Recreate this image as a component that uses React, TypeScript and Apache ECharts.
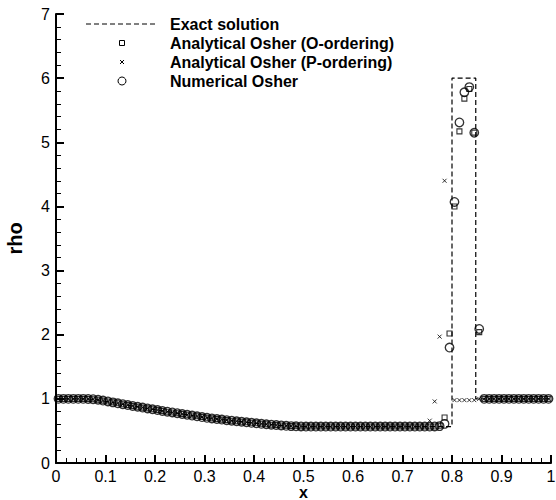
import React, { useEffect, useRef } from "react";
import * as echarts from "echarts";

// cell-centred grid of 100 cells on [0, 1]
const N_CELLS = 100;

// shared smooth part (cells 0..74)
const rhoSmooth = [
  1, 1, 1, 1, 1, 1, 0.999, 0.995,
  0.986, 0.973, 0.959, 0.945, 0.931, 0.917, 0.903, 0.89, 0.877, 0.864,
  0.851, 0.838, 0.825, 0.812, 0.8, 0.788, 0.776, 0.764, 0.752, 0.74,
  0.728, 0.716, 0.705, 0.695, 0.686, 0.677, 0.668, 0.659, 0.651, 0.643,
  0.635, 0.627, 0.619, 0.611, 0.604, 0.597, 0.591, 0.585, 0.58, 0.575,
  0.572, 0.57,
  0.568, 0.568, 0.568, 0.568, 0.568, 0.568, 0.568, 0.568, 0.568, 0.568,
  0.568, 0.568, 0.568, 0.568, 0.568, 0.568, 0.568, 0.568, 0.568, 0.568,
  0.568, 0.568, 0.568, 0.568, 0.568,
];

// cells 75..99
const rhoNumericalTail = [
  0.568, 0.57, 0.575, 0.61, 1.8, 4.07, 5.31, 5.78, 5.86, 5.15, 2.09,
  1, 1, 1, 1, 1, 1, 1, 1, 1, 1, 1, 1, 1, 1,
];
const rhoOOrderTail = [
  0.568, 0.57, 0.58, 0.71, 2.02, 4.0, 5.17, 5.68, 5.83, 5.15, 2.04,
  1, 1, 1, 1, 1, 1, 1, 1, 1, 1, 1, 1, 1, 1,
];
const rhoPOrderTail = [
  0.66, 0.96, 1.97, 4.4, null, 0.98, 0.98, 0.98, 0.98, 0.98, 1.0,
  1, 1, 1, 1, 1, 1, 1, 1, 1, 1, 1, 1, 1, 1,
];

// exact solution polyline
const exactX = [0, 0.06, 0.08, 0.1, 0.15, 0.2, 0.25, 0.3, 0.35, 0.4, 0.45, 0.49, 0.8, 0.8, 0.848, 0.848, 1];
const exactRho = [1, 1, 0.99, 0.962, 0.895, 0.831, 0.77, 0.71, 0.664, 0.622, 0.588, 0.568, 0.568, 6, 6, 1, 1];

const xTicks = { min: 0, max: 1, interval: 0.1 };
const yTicks = { min: 0, max: 7, interval: 1 };

const legendNames = [
  "Exact solution",
  "Analytical Osher (O-ordering)",
  "Analytical Osher (P-ordering)",
  "Numerical Osher",
];

const FONT = "Liberation Sans, Arial, Helvetica, sans-serif";
const CROSS = "path://M0,0L10,10M10,0L0,10";

function toPairs(tail: (number | null)[]) {
  const vals = [...rhoSmooth, ...tail];
  const pts: (number | null)[][] = [];
  vals.forEach((v, i) => {
    if (v !== null) pts.push([(i + 0.5) / N_CELLS, v]);
  });
  return pts;
}

export default function App() {
  const ref = useRef<HTMLDivElement>(null);
  useEffect(() => {
    document.body.style.margin = "0";
    if (!ref.current) return;
    const chart = echarts.init(ref.current, undefined, { renderer: "svg" });
    const axisCommon = {
      axisLine: { show: true, onZero: false, lineStyle: { color: "#000", width: 2 } },
      axisTick: { show: true, inside: true, length: 8, lineStyle: { color: "#000", width: 2 } },
      minorTick: { show: true, splitNumber: 5, length: 5, lineStyle: { color: "#000", width: 1 } },
      splitLine: { show: false },
      minorSplitLine: { show: false },
    };
    const labelStyle = { color: "#000", fontSize: 16, fontFamily: FONT };
    const nameStyle = { color: "#000", fontWeight: "bold", fontFamily: FONT };
    const lx = 86, lw = 72, tx = 170, ly0 = 24, dy = 19;
    const legendGraphic: any[] = [
      { type: "line", shape: { x1: lx, y1: ly0, x2: lx + lw, y2: ly0 }, style: { stroke: "#000", lineWidth: 1, lineDash: [5, 3] } },
      { type: "rect", shape: { x: lx + lw / 2 - 2.5, y: ly0 + dy - 2.5, width: 5, height: 5 }, style: { fill: "none", stroke: "#000", lineWidth: 1 } },
      { type: "line", shape: { x1: lx + lw / 2 - 2, y1: ly0 + 2 * dy - 2, x2: lx + lw / 2 + 2, y2: ly0 + 2 * dy + 2 }, style: { stroke: "#000", lineWidth: 1 } },
      { type: "line", shape: { x1: lx + lw / 2 + 2, y1: ly0 + 2 * dy - 2, x2: lx + lw / 2 - 2, y2: ly0 + 2 * dy + 2 }, style: { stroke: "#000", lineWidth: 1 } },
      { type: "circle", shape: { cx: lx + lw / 2, cy: ly0 + 3 * dy, r: 4 }, style: { fill: "none", stroke: "#000", lineWidth: 1 } },
      ...legendNames.map((n, i) => ({
        type: "text",
        x: tx,
        y: ly0 + i * dy,
        style: { text: n, fill: "#000", fontSize: 16, fontWeight: "bold", fontFamily: FONT, verticalAlign: "middle", align: "left" },
      })),
    ];
    chart.setOption({
      animation: false,
      backgroundColor: "#fff",
      grid: { left: 56, right: 5, top: 14, bottom: 37, containLabel: false, outerBoundsMode: "none" },
      xAxis: {
        type: "value",
        ...xTicks,
        name: "x",
        nameLocation: "middle",
        nameGap: 21,
        nameMoveOverlap: false,
        nameTextStyle: { ...nameStyle, fontSize: 16 },
        axisLabel: { ...labelStyle, margin: 5 },
        ...axisCommon,
      },
      yAxis: {
        type: "value",
        ...yTicks,
        name: "rho",
        nameLocation: "middle",
        nameGap: 31,
        nameTextStyle: { ...nameStyle, fontSize: 20 },
        axisLabel: { ...labelStyle, margin: 6 },
        ...axisCommon,
      },
      graphic: legendGraphic,
      series: [
        {
          name: legendNames[0],
          type: "line",
          data: exactX.map((x, i) => [x, exactRho[i]]),
          symbol: "none",
          lineStyle: { color: "#000", width: 1.2, type: [5, 3] },
          z: 1,
        },
        {
          name: legendNames[1],
          type: "scatter",
          data: toPairs(rhoOOrderTail),
          symbol: "rect",
          symbolSize: 5,
          itemStyle: { color: "none", borderColor: "#000", borderWidth: 1.1 },
          z: 2,
        },
        {
          name: legendNames[2],
          type: "scatter",
          data: toPairs(rhoPOrderTail),
          symbol: CROSS,
          symbolSize: 4,
          itemStyle: { color: "none", borderColor: "#000", borderWidth: 1 },
          z: 3,
        },
        {
          name: legendNames[3],
          type: "scatter",
          data: toPairs(rhoNumericalTail),
          symbol: "circle",
          symbolSize: 8.5,
          itemStyle: { color: "none", borderColor: "#000", borderWidth: 1.35 },
          z: 4,
        },
      ],
    });
    return () => chart.dispose();
  }, []);
  return <div ref={ref} style={{ width: 556, height: 500 }} />;
}
